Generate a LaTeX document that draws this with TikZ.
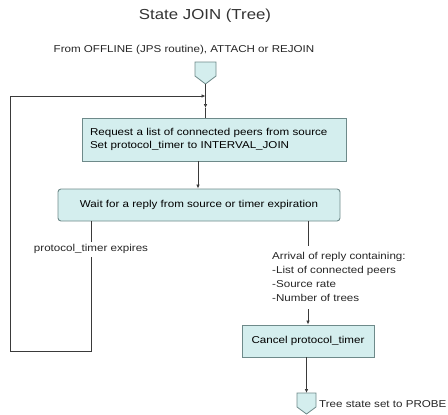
\documentclass[tikz,border=0pt]{standalone}
\usepackage{fontspec}
\setmainfont[FakeStretch=1.16]{Liberation Sans}
\usetikzlibrary{arrows.meta}
\definecolor{boxfill}{HTML}{D4EEEE}
\definecolor{boxline}{HTML}{6E8A8A}
\definecolor{lnc}{HTML}{3A3A3A}
\begin{document}
\begin{tikzpicture}[x=1pt,y=-1pt,
  txt/.style={font=\fontsize{10}{12}\selectfont, text=black!85, inner sep=0pt},
  procbox/.style={draw=boxline, fill=boxfill, line width=0.9pt, inner sep=0pt, font=\fontsize{10}{12.5}\selectfont},
  conn/.style={draw=boxline, fill=boxfill, line width=0.8pt},
  ln/.style={draw=lnc, line width=0.7pt},
  arr/.style={ln, -{Latex[length=4pt,width=3.5pt]}}]
\useasboundingbox (0,0) rectangle (448,415);
% title
\node[font=\fontsize{14.5}{16}\selectfont, text=black!80] (title) at (205,16) {State JOIN (Tree)};
\node[txt] (from) at (184,50) {From OFFLINE (JPS routine), ATTACH or REJOIN};
% top connector
\path[conn] (195,62) -- (216,62) -- (216,76) -- (205.5,84) -- (195,76) -- cycle;
\coordinate (c1) at (205.5,84);
\coordinate (j1) at (205.5,96);
% boxes
\node[procbox, minimum width=264pt, minimum height=43pt, align=left, text width=248pt] (box1) at (214,139.5)
  {Request a list of connected peers from source\\Set protocol\_timer to INTERVAL\_JOIN};
\node[procbox, rounded corners=3pt, minimum width=282pt, minimum height=32pt] (box2) at (199,205)
  {Wait for a reply from source or timer expiration};
\node[procbox, minimum width=132pt, minimum height=32pt] (box3) at (308,341)
  {Cancel protocol\_timer};
% flow top
\draw[arr] (c1) -- (205.5,108) coordinate (a1);
\draw[ln] (box1.north -| a1) -- (a1);
\draw[arr] (box1.south -| 198,0) -- (box2.north -| 198,0);
% left branch
\node[txt, fill=white, inner sep=1pt] (lbl1) at (91,249) {protocol\_timer expires};
\coordinate (lb) at (91,351);
\coordinate (ll) at (10,351);
\coordinate (lu) at (10,96);
\draw[ln] (box2.south -| lbl1) -- (91,242);
\draw[ln] (91,257) -- (lb) -- (ll) -- (lu);
\draw[arr] (lu) -- (j1);
% right branch
\node[txt, anchor=north west, align=left, font=\fontsize{10}{14}\selectfont] (lbl2) at (272,252)
  {Arrival of reply containing:\\-List of connected peers\\-Source rate\\-Number of trees};
\draw[ln] (box2.south -| 308,0) -- (308,246);
\draw[arr] (308,309) -- (box3.north);
% bottom connector
\coordinate (c2) at (306.5,393);
\draw[arr] (box3.south -| c2) -- (c2);
\path[conn] (297,393) -- (316,393) -- (316,407) -- (306.5,414) -- (297,407) -- cycle;
\node[txt, anchor=west] (probe) at (319,404) {Tree state set to PROBE};
\end{tikzpicture}
\end{document}
